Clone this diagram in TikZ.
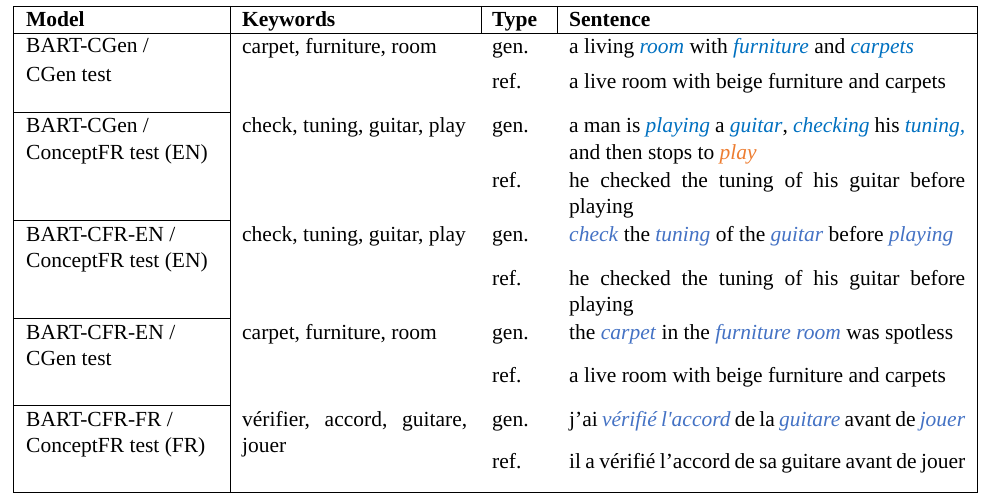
\documentclass[tikz,border=0pt]{standalone}
\usepackage{fontspec}
\setmainfont{Liberation Serif}
\newfontfamily\plainserif{Liberation Serif}
\usepackage{tikz}

\definecolor{kwblue}{HTML}{0070C0}
\definecolor{kwlight}{HTML}{4472C4}
\definecolor{kworange}{HTML}{ED7D31}

\newcommand{\kwa}[1]{\textcolor{kwblue}{\textit{#1}}}
\newcommand{\kwb}[1]{\textcolor{kwlight}{\textit{#1}}}
\newcommand{\kwo}[1]{\textcolor{kworange}{\textit{#1}}}

\begin{document}
\begin{tikzpicture}[x=1pt,y=-1pt,
    cell/.style={anchor=base west, inner sep=0pt, font=\fontsize{21.5}{26}\selectfont},
    head/.style={cell, font=\fontsize{21.5}{26}\selectfont\bfseries},
    rule/.style={line width=0.8pt}]
        \def\L{13}    % left edge
        \def\R{977}   % right edge
        \def\T{6}     % top edge
        \def\B{492}   % bottom edge
        \def\H{33}    % header rule
        \def\cK{230}  % keywords column
        \def\cT{481}  % type column
        \def\cS{557}  % sentence column
        \def\xM{26}   % text start, model
        \def\xK{242}  % text start, keywords
        \def\xT{492}  % text start, type
        \def\xS{569}  % text start, sentence
        \def\wS{396}  % sentence width

        \useasboundingbox (0,0) rectangle (985,500);

        % Frame and rules
        \draw[rule] (\L,\T) rectangle (\R,\B);
        \draw[rule] (\L,\H) -- (\R,\H);
        \draw[rule] (\cK,\T) -- (\cK,\B);
        \draw[rule] (\cT,\T) -- (\cT,\H);
        \draw[rule] (\cS,\T) -- (\cS,\H);
        \foreach \y in {112,220,318,405}
            \draw[rule] (\L,\y) -- (\cK,\y);

        % Header
        \node[head] (hmodel) at (\xM,27) {Model};
        \node[head] (hkey) at (\xK,27) {Keywords};
        \node[head] (htype) at (\xT,27) {Type};
        \node[head] (hsent) at (\xS,27) {Sentence};

        % Row 1
        \node[cell] (m1a) at (\xM,53) {BART-CGen /};
        \node[cell] (m1b) at (\xM,82) {CGen test};
        \node[cell] (k1) at (\xK,54) {carpet, furniture, room};
        \node[cell] (t1g) at (\xT,54) {gen.};
        \node[cell] (s1g) at (\xS,54) {a living \kwa{room} with \kwa{furniture} and \kwa{carpets}};
        \node[cell] (t1r) at (\xT,89) {ref.};
        \node[cell] (s1r) at (\xS,89) {a live room with beige furniture and carpets};

        % Row 2
        \node[cell] (m2a) at (\xM,133) {BART-CGen /};
        \node[cell] (m2b) at (\xM,159) {ConceptFR test (EN)};
        \node[cell] (k2) at (\xK,133) {check, tuning, guitar, play};
        \node[cell] (t2g) at (\xT,133) {gen.};
        \node[cell] (s2g) at (\xS,133) {\makebox[\wS pt][s]{a man is \kwa{playing} a \kwa{guitar}, \kwa{checking} his \kwa{tuning,}}};
        \node[cell] (s2h) at (\xS,159) {and then stops to \kwo{play}};
        \node[cell] (t2r) at (\xT,187) {ref.};
        \node[cell] (s2r) at (\xS,187) {\makebox[\wS pt][s]{he checked the tuning of his guitar before}};
        \node[cell] (s2s) at (\xS,213) {playing};

        % Row 3
        \node[cell] (m3a) at (\xM,241) {BART-CFR-EN /};
        \node[cell] (m3b) at (\xM,267) {ConceptFR test (EN)};
        \node[cell] (k3) at (\xK,241) {check, tuning, guitar, play};
        \node[cell] (t3g) at (\xT,241) {gen.};
        \node[cell] (s3g) at (\xS,241) {\kwb{check} the \kwb{tuning} of the \kwb{guitar} before \kwb{playing}};
        \node[cell] (t3r) at (\xT,285) {ref.};
        \node[cell] (s3r) at (\xS,285) {\makebox[\wS pt][s]{he checked the tuning of his guitar before}};
        \node[cell] (s3s) at (\xS,311) {playing};

        % Row 4
        \node[cell] (m4a) at (\xM,339) {BART-CFR-EN /};
        \node[cell] (m4b) at (\xM,365) {CGen test};
        \node[cell] (k4) at (\xK,339) {carpet, furniture, room};
        \node[cell] (t4g) at (\xT,339) {gen.};
        \node[cell] (s4g) at (\xS,339) {the \kwb{carpet} in the \kwb{furniture room} was spotless};
        \node[cell] (t4r) at (\xT,382) {ref.};
        \node[cell] (s4r) at (\xS,382) {a live room with beige furniture and carpets};

        % Row 5
        \node[cell] (m5a) at (\xM,426) {BART-CFR-FR /};
        \node[cell] (m5b) at (\xM,452) {ConceptFR test (FR)};
        \node[cell] (k5) at (\xK,426) {\makebox[225pt][s]{vérifier, accord, guitare,}};
        \node[cell] (k5b) at (\xK,452) {jouer};
        \node[cell] (t5g) at (\xT,426) {gen.};
        \node[cell] (s5g) at (\xS,426) {\makebox[\wS pt][s]{j’ai \kwb{vérifié l{\plainserif'}accord} de la \kwb{guitare} avant de \kwb{jouer}}};
        \node[cell] (t5r) at (\xT,468) {ref.};
        \node[cell] (s5r) at (\xS,468) {\makebox[\wS pt][s]{il a vérifié l’accord de sa guitare avant de jouer}};
\end{tikzpicture}
\end{document}
